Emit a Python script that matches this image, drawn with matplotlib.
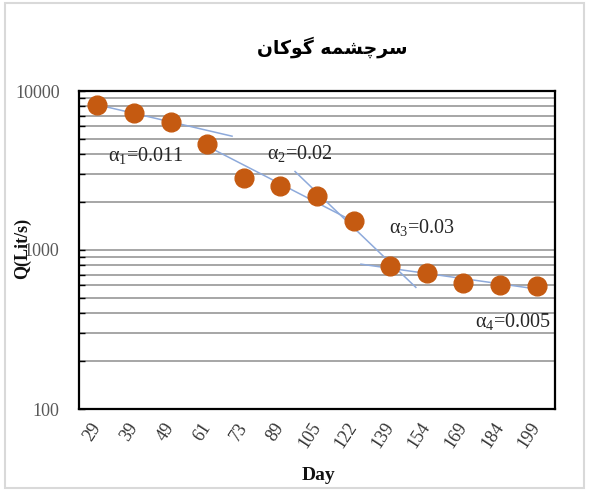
import numpy as np
import matplotlib
matplotlib.use("Agg")
import matplotlib.pyplot as plt
from matplotlib.patches import Rectangle
from matplotlib.ticker import LogLocator, NullFormatter, FixedFormatter, FixedLocator

# ---- data ----
days = ["29", "39", "49", "61", "73", "89", "105", "122", "139", "154", "169", "184", "199"]
discharge = [8170, 7280, 6380, 4650, 2840, 2530, 2190, 1520, 792, 716, 620, 602, 594]

# recession segments: (first index, last index) of points used for each fit
seg_fit = [(0, 2), (2, 7), (6, 8), (8, 12)]
# drawn extent of each trend line in category units
seg_extent = [(0.0, 3.68), (2.8, 7.0), (5.4, 8.7), (7.2, 12.2)]
alpha_labels = ["0.011", "0.02", "0.03", "0.005"]

title_text = "\uFEE5\uFE8E\uFB90\uFEEE\uFB94 \uFEEA\uFEE4\uFEB8\uFB7C\uFEAE\uFEB3"  # سرچشمه گوکان (shaped)

plt.rcParams['mathtext.fontset'] = 'custom'
plt.rcParams['mathtext.rm'] = 'Liberation Serif'
plt.rcParams['mathtext.it'] = 'Liberation Serif:italic'
plt.rcParams['mathtext.bf'] = 'Liberation Serif:bold'

W, H = 589, 492
fig = plt.figure(figsize=(W / 100, H / 100), dpi=100)
ax = fig.add_axes([79 / W, 1 - 409 / H, (555 - 79) / W, (409 - 91) / H])

x = np.arange(len(days))
y = np.array(discharge, dtype=float)

ax.set_yscale('log')
ax.set_ylim(100, 10000)
ax.set_xlim(-0.5, len(days) - 0.5)

# grid at major + minor log positions
ax.yaxis.set_major_locator(FixedLocator([100, 1000, 10000]))
ax.yaxis.set_major_formatter(FixedFormatter(["100", "1000", "10000"]))
ax.yaxis.set_minor_locator(LogLocator(base=10, subs=np.arange(2, 10)))
ax.yaxis.set_minor_formatter(NullFormatter())
ax.grid(True, axis='y', which='both', color='#a6a6a6', linewidth=1.4)
ax.set_axisbelow(True)

# trend lines (fits in log space)
for (i0, i1), (e0, e1) in zip(seg_fit, seg_extent):
    p = np.polyfit(x[i0:i1 + 1], np.log10(y[i0:i1 + 1]), 1)
    xx = np.array([e0, e1])
    ax.plot(xx, 10 ** np.polyval(p, xx), color='#8eaadb', linewidth=1.1, zorder=3)

ax.plot(x, y, linestyle='none', marker='o', markersize=13.5,
        markerfacecolor='#c55a11', markeredgecolor='#c55a11', zorder=4)

ax.set_xticks(x)
ax.set_xticklabels(days)
for lab in ax.get_xticklabels():
    lab.set_rotation(57)
    lab.set_rotation_mode('anchor')
    lab.set_ha('right')
    lab.set_va('center')
    lab.set_family('Liberation Serif')
    lab.set_fontsize(13)
    lab.set_color('#333333')
ax.tick_params(axis='x', length=0, pad=11)

for lab in ax.get_yticklabels():
    lab.set_family('Liberation Serif')
    lab.set_fontsize(13)
    lab.set_color('#595959')
ax.tick_params(axis='y', which='both', direction='in', length=4, width=1, color='black', pad=14)

for s in ax.spines.values():
    s.set_linewidth(1.6)
    s.set_color('black')

# alpha labels
alpha_pos = [(0.141, 0.796), (0.464, 0.805), (0.721, 0.572), (0.912, 0.274)]
for k, (lbl, (px, py)) in enumerate(zip(alpha_labels, alpha_pos)):
    ax.text(px, py, "\u03b1$_{%d}$=%s" % (k + 1, lbl), transform=ax.transAxes,
            ha='center', va='center', fontsize=14.5, family='Liberation Serif',
            color='#262626', zorder=5)

fig.text(332 / W, 1 - 47 / H, title_text, ha='center', va='center',
         fontsize=13.5, fontweight='bold', family=['DejaVu Sans'], color='black')
fig.text(22 / W, 1 - 248 / H, "Q(Lit/s)", rotation=90, ha='center', va='center',
         fontsize=13, fontweight='bold', family='Liberation Serif', color='#111111')
fig.text(318 / W, 1 - 475 / H, "Day", ha='center', va='center',
         fontsize=14, fontweight='bold', family='Liberation Serif', color='#111111')

fig.patches.append(Rectangle((5 / W, 1 - 488 / H), (584 - 5) / W, (488 - 3) / H,
                             transform=fig.transFigure, fill=False,
                             edgecolor='#d9d9d9', linewidth=1.5))

fig.savefig("out.png", dpi=100)
